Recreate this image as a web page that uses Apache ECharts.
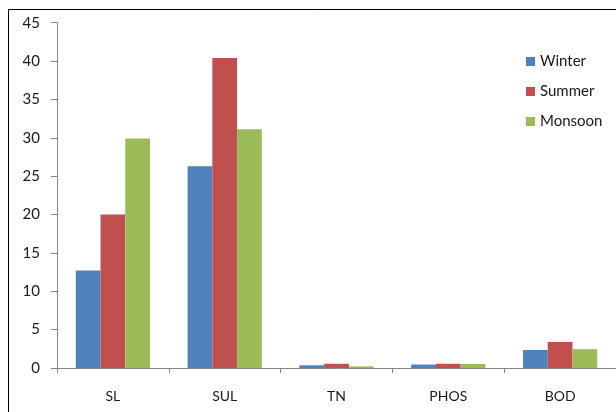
<!DOCTYPE html>
<html><head><meta charset="utf-8">
<script src="https://cdn.jsdelivr.net/npm/echarts@6/dist/echarts.min.js"></script>
<style>html,body{margin:0;padding:0;background:#fff}#c{width:616px;height:412px}</style>
</head><body><div id="c"></div>
<script>
const categories = ['SL', 'SUL', 'TN', 'PHOS', 'BOD'];
const winter = [12.7, 26.3, 0.35, 0.45, 2.35];
const summer = [20.0, 40.4, 0.55, 0.55, 3.4];
const monsoon = [29.9, 31.1, 0.22, 0.52, 2.45];
const yTicks = [0, 5, 10, 15, 20, 25, 30, 35, 40, 45];

const font = 'Lato';
const chart = echarts.init(document.getElementById('c'), null, {renderer: 'canvas'});
const axisColor = '#868686';
chart.setOption({
  animation: false,
  backgroundColor: '#fff',
  graphic: [{
    type: 'rect', shape: {x: 8.5, y: 9.5, width: 640, height: 420},
    style: {fill: 'none', stroke: '#000', lineWidth: 1}, z: 100
  }],
  legend: {
    orient: 'vertical', left: 521, top: 49,
    itemWidth: 9, itemHeight: 9, itemGap: 15,
    icon: 'rect',
    textStyle: {fontFamily: font, fontSize: 15, color: '#1a1a1a', lineHeight: 15, padding: [0, 0, 0, 0]},
    data: ['Winter', 'Summer', 'Monsoon']
  },
  grid: {left: 57, right: -5, top: 22.7, bottom: 44, containLabel: false},
  xAxis: {
    type: 'category', data: categories,
    axisLine: {lineStyle: {color: axisColor}},
    axisTick: {show: true, length: 5, alignWithLabel: false, lineStyle: {color: axisColor}},
    axisLabel: {fontFamily: font, fontSize: 14, color: '#1a1a1a', margin: 21}
  },
  yAxis: {
    type: 'value', min: yTicks[0], max: yTicks[yTicks.length - 1], interval: 5,
    axisLine: {show: true, lineStyle: {color: axisColor}},
    axisTick: {show: true, length: 6, lineStyle: {color: axisColor}},
    splitLine: {show: false},
    axisLabel: {fontFamily: font, fontSize: 15, color: '#1a1a1a', margin: 17}
  },
  series: [
    {name: 'Winter', type: 'bar', data: winter, barGap: '0%', barCategoryGap: '33.6%', itemStyle: {color: '#4F81BD'}},
    {name: 'Summer', type: 'bar', data: summer, barGap: '0%', barCategoryGap: '33.6%', itemStyle: {color: '#C0504D'}},
    {name: 'Monsoon', type: 'bar', data: monsoon, barGap: '0%', barCategoryGap: '33.6%', itemStyle: {color: '#9BBB59'}}
  ]
});
</script></body></html>
